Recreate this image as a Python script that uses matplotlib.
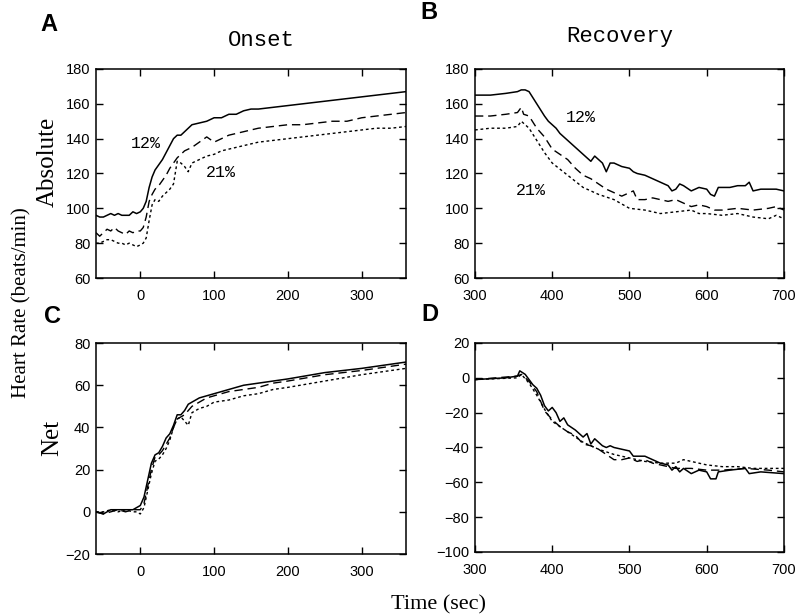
import matplotlib.pyplot as plt

# Onset (panel A, absolute heart rate)
onset_x = [-60, -55, -50, -45, -40, -35, -30, -25, -20, -15, -10, -5, 0,
           4, 8, 12, 16, 20, 25, 30, 35, 40, 45, 50, 55, 60, 65, 70,
           80, 90, 100, 110, 120, 130, 140, 150, 160,
           180, 200, 220, 240, 260, 280, 300, 320, 340, 360]
onset_abs_12 = [96, 95, 95, 96, 97, 96, 97, 96, 96, 96, 98, 97, 98,
                100, 104, 112, 118, 122, 125, 128, 132, 136, 140, 142, 142, 144, 146, 148,
                149, 150, 152, 152, 154, 154, 156, 157, 157,
                158, 159, 160, 161, 162, 163, 164, 165, 166, 167]
onset_abs_mid = [86, 84, 86, 88, 87, 89, 87, 86, 85, 87, 86, 87, 87,
                 89, 95, 104, 108, 111, 113, 116, 119, 123, 126, 129, 131, 133, 134, 135,
                 138, 141, 138, 140, 142, 143, 144, 145, 146,
                 147, 148, 148, 149, 150, 150, 152, 153, 154, 155]
onset_abs_21 = [80, 80, 81, 82, 82, 81, 80, 80, 79, 80, 79, 78, 79,
                80, 83, 93, 102, 105, 104, 107, 109, 111, 114, 127, 126, 124, 121, 126,
                128, 130, 131, 133, 134, 135, 136, 137, 138,
                139, 140, 141, 142, 143, 144, 145, 146, 146, 147]

# Recovery (panel B, absolute heart rate)
rec_x_12 = [300, 320, 340, 355, 360, 365, 370, 380, 390, 395, 400, 405, 410,
            420, 430, 440, 450, 455, 460, 465, 470, 475, 480,
            490, 500, 505, 510, 520, 530, 540, 550, 555, 560,
            565, 570, 580, 590, 600, 605, 610, 615, 620, 630,
            640, 650, 655, 660, 670, 680, 690, 700]
rec_abs_12 = [165, 165, 166, 167, 168, 168, 167, 160, 153, 150, 148, 146, 143,
              139, 135, 131, 127, 130, 128, 126, 121, 126, 126,
              124, 123, 121, 120, 119, 117, 115, 113, 110, 111,
              114, 113, 110, 112, 111, 108, 107, 112, 112, 112,
              113, 113, 115, 110, 111, 111, 111, 110]
rec_x_mid = [300, 320, 340, 355, 360, 363, 370, 380, 390, 400,
             410, 420, 430, 440, 450, 460, 470, 480, 490, 500,
             505, 510, 520, 530, 540, 550, 560, 570, 580, 590,
             600, 610, 620, 640, 660, 680, 690, 700]
rec_abs_mid = [153, 153, 154, 155, 158, 154, 153, 146, 141, 134,
               131, 128, 123, 119, 117, 114, 111, 109, 107, 109,
               110, 105, 105, 106, 105, 104, 105, 103, 101, 102,
               101, 99, 99, 100, 99, 100, 101, 99]
rec_x_21 = [300, 320, 340, 355, 360, 370, 380, 390, 400, 420,
            440, 460, 480, 500, 520, 540, 560, 580, 590, 600,
            620, 640, 660, 680, 690, 700]
rec_abs_21 = [145, 146, 146, 147, 150, 146, 139, 132, 126, 119,
              112, 108, 105, 100, 99, 97, 98, 99, 97, 97,
              96, 97, 95, 94, 96, 94]

# Onset (panel C, net heart rate)
net_on_x = [-60, -50, -40, -30, -20, -10, -5, 0, 5, 10, 15, 20, 25, 30, 35,
            40, 45, 50, 55, 60, 65, 70, 80, 90, 100, 120, 140, 160, 180, 200,
            250, 300, 340, 360]
net_on_12 = [0, -1, 1, 1, 1, 1, 2, 3, 7, 15, 23, 27, 28, 31, 35,
             37, 41, 46, 46, 48, 51, 52, 54, 55, 56, 58, 60, 61, 62, 63,
             66, 68, 70, 71]
net_on_mid = [0, -1, 0, 1, 0, 1, 1, 1, 4, 12, 20, 26, 27, 29, 32,
              35, 40, 44, 45, 46, 48, 50, 52, 54, 55, 57, 58, 59, 61, 62,
              65, 67, 69, 70]
net_on_21 = [0, 0, 1, 0, 1, 0, 0, -1, 2, 10, 18, 24, 25, 27, 30,
             34, 40, 44, 45, 43, 41, 47, 49, 50, 52, 53, 55, 56, 58, 59,
             62, 65, 67, 68]

# Recovery (panel D, net heart rate)
net_rec_x_12 = [300, 340, 355, 358, 365, 370, 375, 380, 385, 390, 395, 400, 405,
                410, 415, 420, 430, 440, 445, 450, 455, 460, 465, 470, 475,
                480, 490, 500, 505, 520, 530, 540, 550, 555, 560, 565, 570,
                580, 590, 600, 605, 612, 615, 630, 650, 655, 670, 700]
net_rec_12 = [-1, 0, 1, 4, 2, -1, -4, -6, -10, -16, -19, -17, -20,
              -25, -23, -27, -30, -34, -32, -38, -35, -37, -39, -40, -39,
              -40, -41, -42, -45, -45, -47, -49, -50, -53, -51, -54, -52,
              -55, -53, -54, -58, -58, -54, -53, -52, -55, -54, -55]
net_rec_x_mid = [300, 355, 360, 370, 380, 390, 400, 410, 420, 430, 440, 450,
                 460, 470, 480, 490, 500, 510, 520, 530, 540, 560, 580, 600,
                 620, 650, 680, 700]
net_rec_mid = [-1, 1, 2, -2, -8, -19, -24, -28, -31, -33, -38, -39,
               -41, -44, -47, -47, -46, -48, -47, -49, -50, -52, -52, -53,
               -53, -52, -53, -54]
net_rec_x_21 = [300, 355, 360, 370, 380, 390, 400, 420, 440, 460, 480, 500,
                520, 540, 560, 570, 580, 600, 620, 640, 660, 680, 700]
net_rec_21 = [-1, 0, 2, -3, -10, -18, -25, -31, -37, -41, -44, -46,
              -48, -49, -49, -47, -48, -50, -51, -51, -52, -52, -52]

SOLID = '-'
DASHED = (0, (6, 3.5))
DOTTED = (0, (2, 2))

plt.rcParams['font.family'] = ['Liberation Sans', 'DejaVu Sans']
plt.rcParams['axes.unicode_minus'] = True

fig = plt.figure(figsize=(7.98, 6.16), dpi=100)
ax_a = fig.add_axes([0.1203, 0.5487, 0.3885, 0.3393])
ax_b = fig.add_axes([0.5952, 0.5487, 0.3872, 0.3393])
ax_c = fig.add_axes([0.1203, 0.1006, 0.3885, 0.3425])
ax_d = fig.add_axes([0.5952, 0.1039, 0.3872, 0.3393])

ax_a.plot(onset_x, onset_abs_12, color='black', lw=1.1, ls=SOLID)
ax_a.plot(onset_x, onset_abs_mid, color='black', lw=1.0, ls=DASHED)
ax_a.plot(onset_x, onset_abs_21, color='black', lw=1.0, ls=DOTTED)

ax_b.plot(rec_x_12, rec_abs_12, color='black', lw=1.1, ls=SOLID)
ax_b.plot(rec_x_mid, rec_abs_mid, color='black', lw=1.0, ls=DASHED)
ax_b.plot(rec_x_21, rec_abs_21, color='black', lw=1.0, ls=DOTTED)

ax_c.plot(net_on_x, net_on_12, color='black', lw=1.1, ls=SOLID)
ax_c.plot(net_on_x, net_on_mid, color='black', lw=1.0, ls=DASHED)
ax_c.plot(net_on_x, net_on_21, color='black', lw=1.0, ls=DOTTED)

ax_d.plot(net_rec_x_12, net_rec_12, color='black', lw=1.1, ls=SOLID)
ax_d.plot(net_rec_x_mid, net_rec_mid, color='black', lw=1.0, ls=DASHED)
ax_d.plot(net_rec_x_21, net_rec_21, color='black', lw=1.0, ls=DOTTED)

for ax in (ax_a, ax_c):
    ax.set_xlim(-60, 360)
    ax.set_xticks([0, 100, 200, 300])
for ax in (ax_b, ax_d):
    ax.set_xlim(300, 700)
    ax.set_xticks([300, 400, 500, 600, 700])
for ax in (ax_a, ax_b):
    ax.set_ylim(60, 180)
    ax.set_yticks(range(60, 181, 20))
ax_c.set_ylim(-20, 80)
ax_c.set_yticks(range(-20, 81, 20))
ax_d.set_ylim(-100, 20)
ax_d.set_yticks(range(-100, 21, 20))

for ax in (ax_a, ax_b, ax_c, ax_d):
    ax.tick_params(direction='in', length=5, width=1, top=True, right=True,
                   labelsize=10.5, colors='black')
    ax.tick_params(axis='x', pad=8)
    ax.tick_params(axis='y', pad=4)
    for s in ax.spines.values():
        s.set_linewidth(1.1)

mono = 'Liberation Mono'
ax_a.text(7, 137, '12%', family=mono, fontsize=12, ha='center', va='center')
ax_a.text(109, 120.5, '21%', family=mono, fontsize=12, ha='center', va='center')
ax_b.text(437, 152, '12%', family=mono, fontsize=12, ha='center', va='center')
ax_b.text(372, 110, '21%', family=mono, fontsize=12, ha='center', va='center')

fig.text(0.328, 0.935, 'Onset', family=mono, fontsize=16, ha='center', va='center')
fig.text(0.777, 0.940, 'Recovery', family=mono, fontsize=16, ha='center', va='center')

for lbl, x, y in [('A', 0.0614, 0.961), ('B', 0.5376, 0.979),
                  ('C', 0.0664, 0.487), ('D', 0.539, 0.489)]:
    fig.text(x, y, lbl, fontsize=17, fontweight='bold', ha='center', va='center')

serif = ['Liberation Serif', 'DejaVu Serif']
fig.text(0.0276, 0.508, 'Heart Rate (beats/min)', family=serif, fontsize=15,
         rotation=90, ha='center', va='center')
fig.text(0.060, 0.737, 'Absolute', family=serif, fontsize=18,
         rotation=90, ha='center', va='center')
fig.text(0.066, 0.289, 'Net', family=serif, fontsize=18,
         rotation=90, ha='center', va='center')
fig.text(0.549, 0.018, 'Time (sec)', family=serif, fontsize=16,
         ha='center', va='center')

fig.savefig('out.png', dpi=100, facecolor='white')
